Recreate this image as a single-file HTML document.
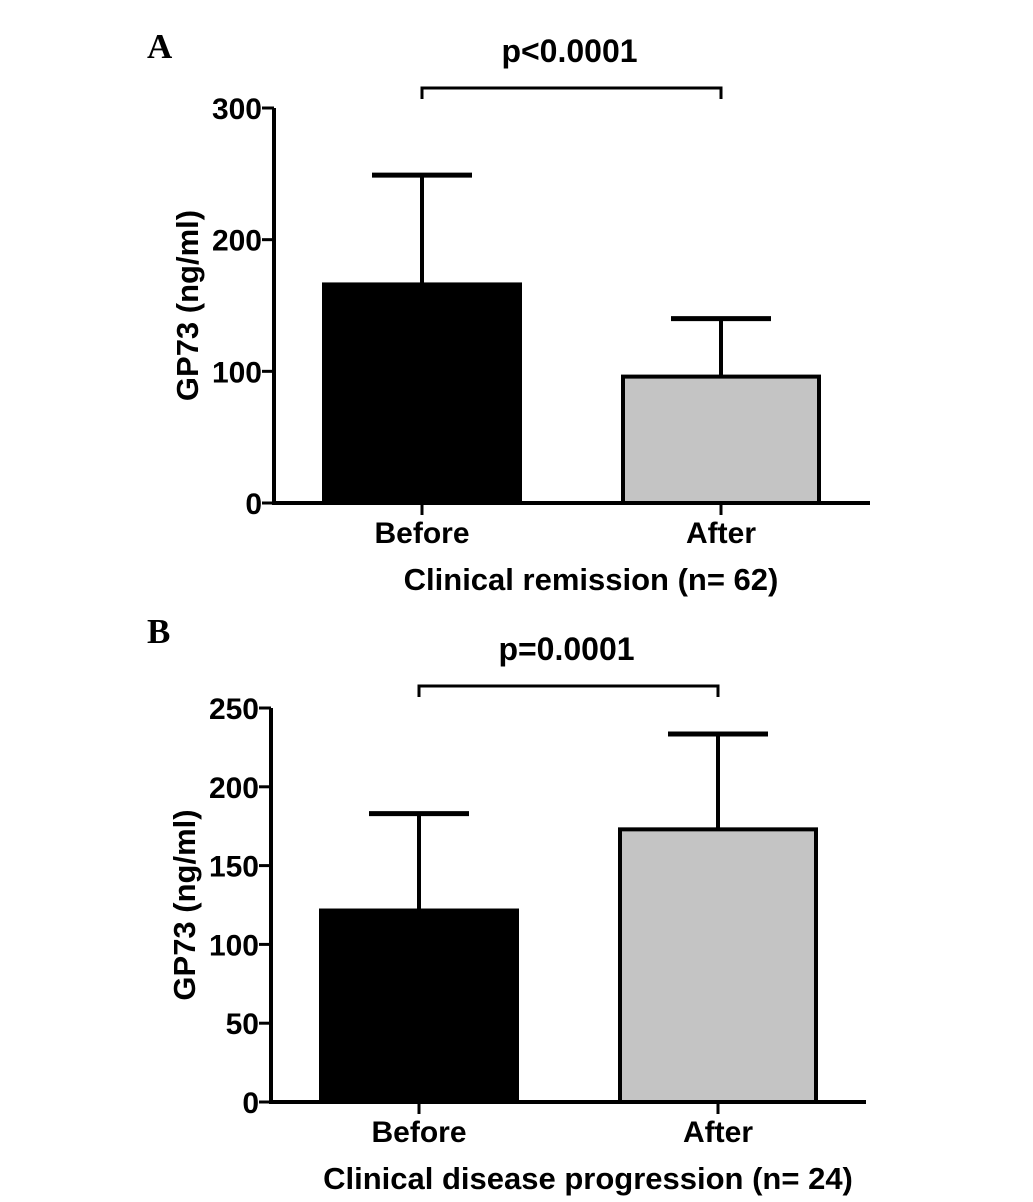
<!DOCTYPE html>
<html><head><meta charset="utf-8"><style>
body{margin:0;background:#fff}
svg text{font-family:"Liberation Sans",Arial,sans-serif;font-weight:bold;fill:#000}
</style></head><body>
<svg id="c" width="1033" height="1197" viewBox="0 0 1033 1197" xmlns="http://www.w3.org/2000/svg"></svg>
<script>
const categories = ["Before", "After"];
const meansA = [166, 96];
const errA = [249, 140];
const ticksA = [0, 100, 200, 300];
const meansB = [121.5, 173];
const errB = [183, 233.5];
const ticksB = [0, 50, 100, 150, 200, 250];
const fills = ["#000", "#c4c4c4"];
const NS = "http://www.w3.org/2000/svg";
const svg = document.getElementById('c');
function mk(tag, attrs, parent, text){
  const e = document.createElementNS(NS, tag);
  for (const k in attrs) e.setAttribute(k, attrs[k]);
  if (text !== undefined) e.textContent = text;
  (parent || svg).appendChild(e);
  return e;
}
function panel(cfg){
  const g = mk('g', {});
  
  
  const y = v => cfg.y0 - (v / cfg.max) * (cfg.y0 - cfg.yTop);
  const lbl = mk('text', {x: cfg.letterX, y: cfg.letterY, 'font-size': 35, style: 'font-family:"Liberation Serif",serif'}, g, cfg.letter);
  
  
  const ya = mk('line', {x1: cfg.ax, y1: y(cfg.max), x2: cfg.ax, y2: cfg.y0, stroke: '#000', 'stroke-width': 4}, g);
  
  
  const xa = mk('line', {x1: cfg.ax - 2, y1: cfg.y0, x2: cfg.axEnd, y2: cfg.y0, stroke: '#000', 'stroke-width': 4}, g);
  
  
  cfg.ticks.forEach(t => {
    mk('line', {x1: cfg.ax - 12, y1: y(t), x2: cfg.ax, y2: y(t), stroke: '#000', 'stroke-width': 3}, g);
    const tl = mk('text', {x: cfg.ax - 12, y: y(t) + 11, 'font-size': 30, 'text-anchor': 'end'}, g, t);
    
    
  });
  const yt = mk('text', {x: 0, y: 0, 'font-size': 31, 'text-anchor': 'middle', transform: `translate(${cfg.ax - 76},${(cfg.y0 + y(cfg.max)) / 2}) rotate(-90)`}, g, 'GP73 (ng/ml)');
  
  
  categories.forEach((c, i) => {
    const x0 = cfg.barX[i], w = 200, cx = x0 + w / 2;
    const el = mk('line', {x1: cx, y1: y(cfg.err[i]), x2: cx, y2: y(cfg.means[i]), stroke: '#000', 'stroke-width': 4}, g);
    
    
    mk('line', {x1: cx - 50, y1: y(cfg.err[i]), x2: cx + 50, y2: y(cfg.err[i]), stroke: '#000', 'stroke-width': 5}, g);
    const b = mk('rect', {x: x0 + 2, y: y(cfg.means[i]), width: w - 4, height: cfg.y0 - y(cfg.means[i]), fill: fills[i], stroke: '#000', 'stroke-width': 4}, g);
    
    
    mk('line', {x1: cx, y1: cfg.y0, x2: cx, y2: cfg.y0 + 12, stroke: '#000', 'stroke-width': 3}, g);
    const cl = mk('text', {x: cx, y: cfg.y0 + 40, 'font-size': 30, 'text-anchor': 'middle'}, g, c);
    
    
  });
  const xt = mk('text', {x: cfg.xtX, y: cfg.y0 + 87, 'font-size': 31, 'text-anchor': 'middle'}, g, cfg.xTitle);
  
  
  const c1 = cfg.barX[0] + 100, c2 = cfg.barX[1] + 100;
  const br = mk('path', {d: `M${c1},${cfg.brY + 11} V${cfg.brY} H${c2} V${cfg.brY + 11}`, fill: 'none', stroke: '#000', 'stroke-width': 3}, g);
  
  
  const pv = mk('text', {x: (c1 + c2) / 2 - 2, y: cfg.brY - 26, 'font-size': 32, 'text-anchor': 'middle'}, g, cfg.p);
  
  
}
panel({name: 'panel-a', letter: 'A', letterX: 147, letterY: 58, ax: 274, axEnd: 870, y0: 503, yTop: 108, max: 300,
  ticks: ticksA, means: meansA, err: errA, barX: [322, 621], xTitle: 'Clinical remission (n= 62)', xtX: 591, brY: 88, p: 'p<0.0001'});
panel({name: 'panel-b', letter: 'B', letterX: 147, letterY: 643, ax: 271, axEnd: 866, y0: 1102, yTop: 708, max: 250,
  ticks: ticksB, means: meansB, err: errB, barX: [319, 618], xTitle: 'Clinical disease progression (n= 24)', xtX: 588, brY: 686, p: 'p=0.0001'});
</script>
</body></html>
